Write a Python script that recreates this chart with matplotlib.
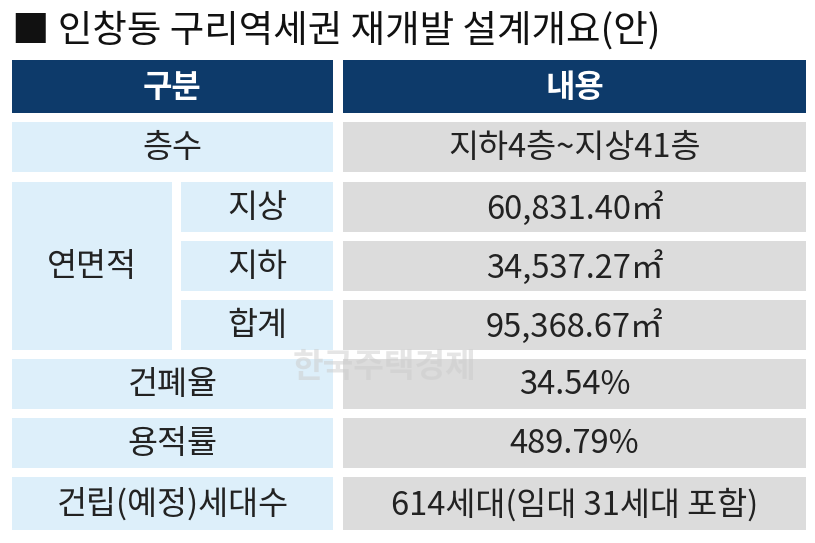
import matplotlib
matplotlib.use("Agg")
import matplotlib.pyplot as plt
from matplotlib.patches import Rectangle

plt.rcParams['font.family'] = ['Noto Sans CJK KR', 'DejaVu Sans']

title = "■ 인창동 구리역세권 재개발 설계개요(안)"
headers = ["구분", "내용"]
row_labels = ["층수", "연면적", "건폐율", "용적률", "건립(예정)세대수"]
sub_labels = ["지상", "지하", "합계"]
values = ["지하4층~지상41층", "60,831.40㎡", "34,537.27㎡", "95,368.67㎡",
          "34.54%", "489.79%", "614세대(임대 31세대 포함)"]

NAVY = "#0d3a6a"
BLUE = "#ddeffa"
GRAY = "#dcdcdc"

fig = plt.figure(figsize=(8.15, 5.43), dpi=100)
ax = fig.add_axes([0, 0, 1, 1])
ax.set_xlim(0, 815)
ax.set_ylim(543, 0)
ax.axis('off')

def cell(x0, x1, y0, y1, color, text, tc="#222222", bold=False, size=23.5):
    ax.add_patch(Rectangle((x0, y0), x1 - x0, y1 - y0, color=color, lw=0))
    ax.text((x0 + x1) / 2, (y0 + y1) / 2 + 1, text, ha='center', va='center',
            color=tc, fontsize=size, fontweight='bold' if bold else 'normal')

ax.text(12, 31, title, ha='left', va='center', fontsize=27, color="#111111")

cell(12, 333, 60, 113, NAVY, headers[0], "white", True, 23)
cell(343, 806, 60, 113, NAVY, headers[1], "white", True, 23)

rows_y = [(122, 172), (182, 232), (241, 291), (300, 350), (359, 409), (418, 468), (477, 530)]

cell(12, 333, *rows_y[0], BLUE, row_labels[0])
cell(12, 172, 182, 350, BLUE, row_labels[1])
for i, s in enumerate(sub_labels):
    cell(181, 333, *rows_y[1 + i], BLUE, s)
for i, lab in enumerate(row_labels[2:]):
    cell(12, 333, *rows_y[4 + i], BLUE, lab)
for i, v in enumerate(values):
    cell(343, 806, *rows_y[i], GRAY, v)

ax.text(385, 368, "한국주택경제", ha='center', va='center', fontsize=24,
        fontweight='bold', color="#cccccc", alpha=0.5)

fig.savefig("out.png", dpi=100)
